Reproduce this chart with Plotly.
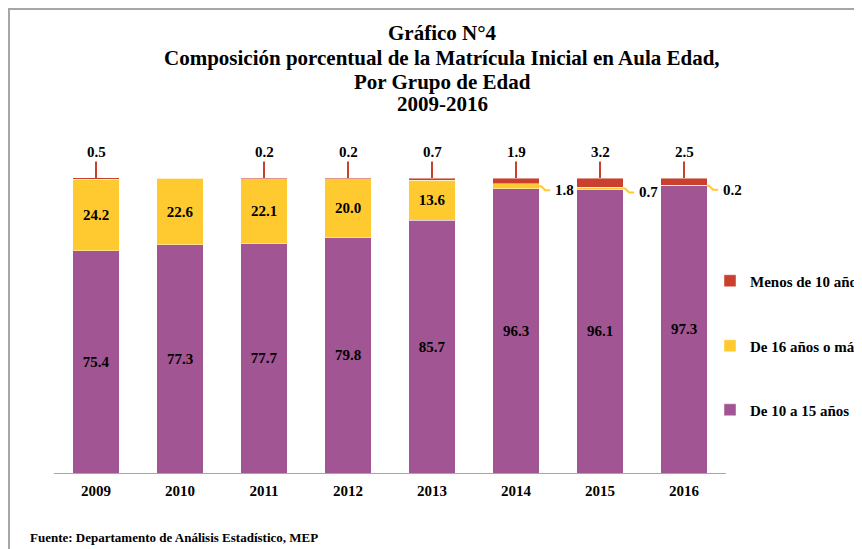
import plotly.graph_objects as go

years = ["2009", "2010", "2011", "2012", "2013", "2014", "2015", "2016"]
de_10_a_15 = [75.4, 77.3, 77.7, 79.8, 85.7, 96.3, 96.1, 97.3]
de_16_o_mas = [24.2, 22.6, 22.1, 20.0, 13.6, 1.8, 0.7, 0.2]
menos_de_10 = [0.5, None, 0.2, 0.2, 0.7, 1.9, 3.2, 2.5]

title_lines = ["Gráfico N°4",
               "Composición porcentual de la Matrícula Inicial en Aula Edad,",
               "Por Grupo de Edad",
               "2009-2016"]
source_text = "Fuente: Departamento de Análisis Estadístico, MEP"

PURPLE = "#A15592"
YELLOW = "#FFCA30"
RED = "#C9402F"
FONT = "Liberation Serif"

# page has an 8px body margin: figure drawn at (8, 8)
OFF = 8
W, H = 862 - OFF, 549 - OFF


def fx(px):
    return (px - OFF) / W


def fy(py):
    return 1 - (py - OFF) / H


idx = list(range(len(years)))
BAR_W = 0.55


def fmt(v):
    return "" if v is None else f"{v:.1f}"


bold = dict(family=FONT, color="black", weight="bold")

fig = go.Figure()

fig.add_trace(go.Bar(
    x=idx, y=de_10_a_15, name="De 10 a 15 años", legend="legend3",
    marker=dict(color=PURPLE, line=dict(color="rgba(255,255,255,0.45)", width=1)),
    text=[fmt(v) for v in de_10_a_15], textposition="inside", insidetextanchor="middle",
    textfont=dict(size=15, **bold), width=BAR_W, hoverinfo="skip"))

yellow_text = [fmt(v) if v >= 5 else "" for v in de_16_o_mas]
fig.add_trace(go.Bar(
    x=idx, y=de_16_o_mas, name="De 16 años o más", legend="legend2",
    marker=dict(color=YELLOW, line=dict(color="rgba(255,255,255,0.45)", width=1)),
    text=yellow_text, textposition="inside", insidetextanchor="middle",
    textfont=dict(size=15, **bold), width=BAR_W, hoverinfo="skip"))

fig.add_trace(go.Bar(
    x=idx, y=[0 if v is None else v for v in menos_de_10], name="Menos de 10 años", legend="legend",
    marker=dict(color=RED, line=dict(color="rgba(255,255,255,0.45)", width=1)),
    width=BAR_W, hoverinfo="skip"))

# red callouts above bars
for i in idx:
    v = menos_de_10[i]
    if v is None:
        continue
    top = min(round(de_10_a_15[i] + de_16_o_mas[i] + v, 1), 100)
    fig.add_annotation(x=i, y=top, xref="x", yref="y", text=fmt(v),
                       showarrow=True, arrowhead=0, arrowwidth=2, arrowcolor=RED,
                       ax=0, ay=-26, font=dict(size=15, **bold))

# yellow callouts for thin segments
px_x = 1 / 84.0
px_y = 100 / 295.0
for i in idx:
    v = de_16_o_mas[i]
    if v >= 5:
        continue
    yc = de_10_a_15[i] + v / 2
    xr = i + BAR_W / 2
    path = (f"M{xr},{yc} L{xr + 2*px_x},{yc} L{xr + 6*px_x},{yc - 4*px_y} "
            f"L{xr + 11*px_x},{yc - 4*px_y}")
    fig.add_shape(type="path", path=path, xref="x", yref="y",
                  line=dict(color=YELLOW, width=2))
    fig.add_annotation(x=xr + 14*px_x, y=yc - 4*px_y, xref="x", yref="y",
                       text=fmt(v), showarrow=False, xanchor="left", yanchor="middle",
                       font=dict(size=15, **bold))

# outer frame
fig.add_shape(type="rect", xref="paper", yref="paper",
              x0=1 / W, x1=1.05, y0=-0.05, y1=1 - 1 / H,
              line=dict(color="#A6A6A6", width=2), fillcolor="rgba(0,0,0,0)")

# title lines
for line, py in zip(title_lines, [33, 57.5, 81.5, 103.5]):
    fig.add_annotation(xref="paper", yref="paper", x=fx(442), y=fy(py),
                       xanchor="center", yanchor="middle", showarrow=False,
                       text=line, font=dict(size=21, **bold))

fig.add_annotation(xref="paper", yref="paper", x=fx(28), y=fy(537),
                   xanchor="left", yanchor="middle", showarrow=False,
                   text=source_text, font=dict(size=13, **bold))

legend_common = dict(font=dict(size=15, **bold), bgcolor="rgba(0,0,0,0)",
                     xanchor="left", yanchor="middle", x=fx(710))
fig.update_layout(
    width=W, height=H,
    barmode="stack",
    paper_bgcolor="white", plot_bgcolor="white",
    margin=dict(l=0, r=0, t=0, b=0, autoexpand=False),
    xaxis=dict(domain=[fx(54), fx(726)], range=[-0.5, 7.5], tickvals=idx, ticktext=years,
               showline=True, linecolor="#A6A6A6", linewidth=1, showgrid=False,
               zeroline=False, ticks="", ticklabelstandoff=4,
               tickfont=dict(size=15, **bold)),
    yaxis=dict(domain=[fy(473), fy(178)], range=[0, 100], visible=False),
    legend=dict(y=fy(281), **legend_common),
    legend2=dict(y=fy(346), **legend_common),
    legend3=dict(y=fy(410), **legend_common),
    showlegend=True,
)

fig.write_html("out.html")
